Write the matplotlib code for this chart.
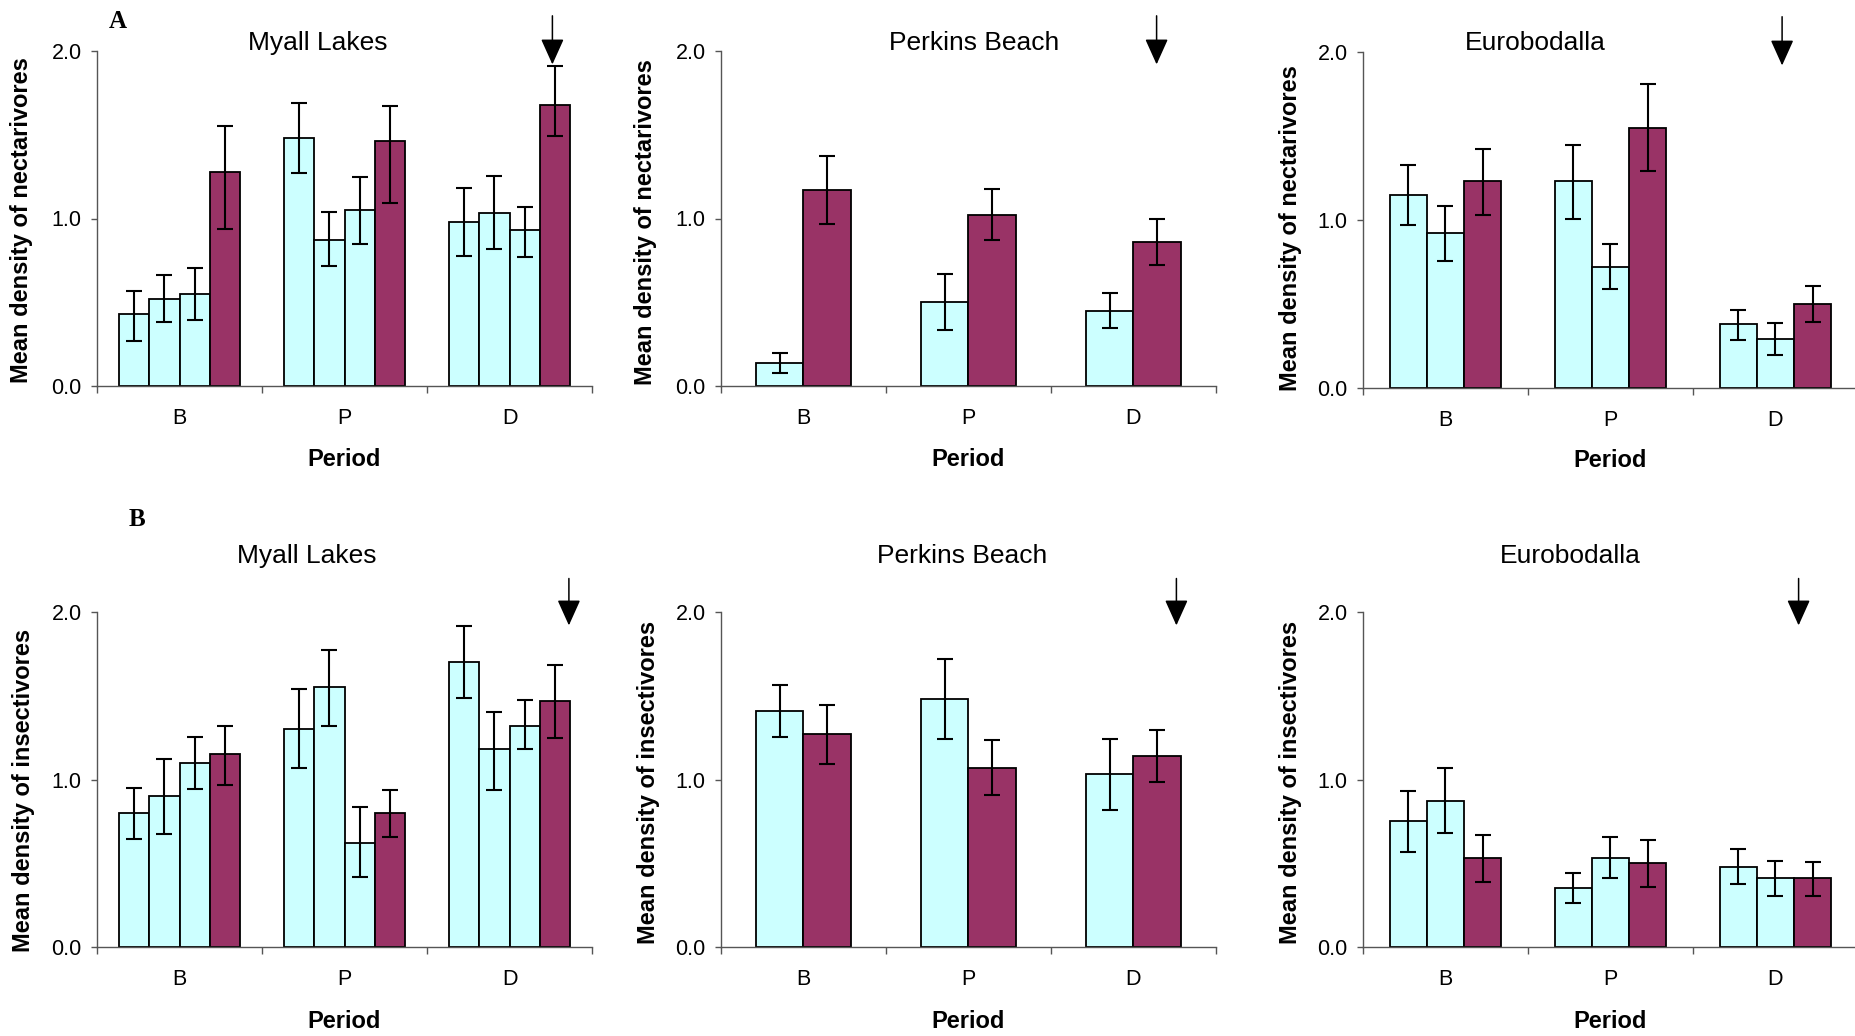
import numpy as np
import matplotlib
matplotlib.use("Agg")
import matplotlib.pyplot as plt

plt.rcParams['font.family'] = ['Liberation Sans', 'DejaVu Sans']

W, H = 1856, 1036

periods = ['B', 'P', 'D']
sites = ['Myall Lakes', 'Perkins Beach', 'Eurobodalla']

# nectarivores, rows = period (B, P, D), columns = bars in the group
nect_myall = [[0.43, 0.52, 0.55, 1.28], [1.48, 0.87, 1.05, 1.46], [0.98, 1.03, 0.93, 1.68]]
nect_myall_hi = [[0.14, 0.14, 0.155, 0.27], [0.21, 0.17, 0.20, 0.21], [0.20, 0.225, 0.14, 0.23]]
nect_myall_lo = [[0.16, 0.14, 0.155, 0.34], [0.21, 0.155, 0.205, 0.37], [0.205, 0.21, 0.16, 0.19]]

nect_perkins = [[0.14, 1.17], [0.50, 1.02], [0.45, 0.86]]
nect_perkins_hi = [[0.06, 0.205], [0.17, 0.155], [0.105, 0.14]]
nect_perkins_lo = [[0.06, 0.205], [0.165, 0.15], [0.105, 0.14]]

nect_euro = [[1.15, 0.92, 1.23], [1.23, 0.72, 1.55], [0.38, 0.29, 0.50]]
nect_euro_hi = [[0.18, 0.165, 0.19], [0.215, 0.14, 0.26], [0.085, 0.095, 0.105]]
nect_euro_lo = [[0.18, 0.165, 0.20], [0.225, 0.13, 0.26], [0.095, 0.095, 0.11]]

# insectivores
ins_myall = [[0.80, 0.90, 1.10, 1.15], [1.30, 1.55, 0.62, 0.80], [1.70, 1.18, 1.32, 1.47]]
ins_myall_hi = [[0.15, 0.22, 0.155, 0.17], [0.24, 0.225, 0.215, 0.14], [0.215, 0.225, 0.155, 0.215]]
ins_myall_lo = [[0.155, 0.225, 0.155, 0.18], [0.23, 0.23, 0.20, 0.145], [0.215, 0.24, 0.14, 0.225]]

ins_perkins = [[1.41, 1.27], [1.48, 1.07], [1.03, 1.14]]
ins_perkins_hi = [[0.155, 0.175], [0.24, 0.165], [0.21, 0.155]]
ins_perkins_lo = [[0.155, 0.18], [0.24, 0.165], [0.215, 0.155]]

ins_euro = [[0.75, 0.87, 0.53], [0.35, 0.53, 0.50], [0.48, 0.41, 0.41]]
ins_euro_hi = [[0.18, 0.20, 0.14], [0.09, 0.125, 0.14], [0.105, 0.105, 0.095]]
ins_euro_lo = [[0.18, 0.19, 0.14], [0.09, 0.12, 0.14], [0.105, 0.105, 0.105]]

# arrow positions (x in category units) marking the last group
arrow_x_nect = [2.26, 2.14, 2.04]
arrow_x_ins = [2.36, 2.26, 2.14]

CYAN = '#CCFFFF'
MAROON = '#993366'
AXCOL = '#555555'


def px(x, y):
    return x / W, 1 - y / H


def draw_panel(ax, vals, hi, lo, colors, width, arrow_x, arrow_top):
    vals = np.array(vals)
    hi = np.array(hi)
    lo = np.array(lo)
    n = vals.shape[1]
    base = np.arange(len(periods))
    for j in range(n):
        xs = base + (j - (n - 1) / 2) * width
        ax.bar(xs, vals[:, j], width, color=colors[j], edgecolor='black',
               linewidth=1.3, zorder=2,
               yerr=[lo[:, j], hi[:, j]], capsize=6,
               error_kw=dict(elinewidth=1.5, capthick=1.5, ecolor='black', zorder=3))
    ax.set_xlim(-0.5, 2.5)
    ax.set_ylim(0, 2)
    ax.set_yticks([0, 1, 2])
    ax.set_yticklabels(['0.0', '1.0', '2.0'])
    ax.set_xticks(base)
    ax.set_xticklabels(periods)
    ax.set_xticks([-0.5, 0.5, 1.5, 2.5], minor=True)
    ax.tick_params(axis='x', which='major', length=0, pad=16, labelsize=15.5)
    ax.tick_params(axis='x', which='minor', length=5, width=1, color=AXCOL)
    ax.tick_params(axis='y', length=4, width=1, color=AXCOL, pad=7, labelsize=15.5)
    for s in ['top', 'right']:
        ax.spines[s].set_visible(False)
    for s in ['left', 'bottom']:
        ax.spines[s].set_color(AXCOL)
        ax.spines[s].set_linewidth(1.0)
    ax.annotate('', xy=(arrow_x, 1.92), xytext=(arrow_x, arrow_top),
                annotation_clip=False,
                arrowprops=dict(arrowstyle='-|>,head_length=1.6,head_width=0.72',
                                color='black', lw=1.1, shrinkA=0, shrinkB=0))


fig = plt.figure(figsize=(W / 100, H / 100), dpi=100)

col_left = [97, 721, 1363]
ax_w = 495

# row A: nectarivores
rowA = [(nect_myall, nect_myall_hi, nect_myall_lo, [CYAN, CYAN, CYAN, MAROON], 0.1825),
        (nect_perkins, nect_perkins_hi, nect_perkins_lo, [CYAN, MAROON], 0.285),
        (nect_euro, nect_euro_hi, nect_euro_lo, [CYAN, CYAN, MAROON], 0.226)]
rowA_bottom = [386, 386, 388]
rowA_top = [51, 51, 52]
titleA = [(318, 43), (974, 43), (1535, 43)]
ylabA = [(22, 220), (646, 222), (1290, 228)]

for i, (v, hi, lo, cols, w) in enumerate(rowA):
    b, t = rowA_bottom[i], rowA_top[i]
    ax = fig.add_axes([col_left[i] / W, 1 - b / H, ax_w / W, (b - t) / H])
    draw_panel(ax, v, hi, lo, cols, w, arrow_x_nect[i], 2.21)
    fig.text(*px(*titleA[i]), sites[i], ha='center', va='center', fontsize=19)
    fig.text(*px(*ylabA[i]), 'Mean density of nectarivores', rotation=90,
             ha='center', va='center', fontsize=17, fontweight='bold')
    fig.text(*px(col_left[i] + ax_w / 2, 459 + (b - 386)), 'Period',
             ha='center', va='center', fontsize=17, fontweight='bold')

# row B: insectivores
rowB = [(ins_myall, ins_myall_hi, ins_myall_lo, [CYAN, CYAN, CYAN, MAROON], 0.1825),
        (ins_perkins, ins_perkins_hi, ins_perkins_lo, [CYAN, MAROON], 0.285),
        (ins_euro, ins_euro_hi, ins_euro_lo, [CYAN, CYAN, MAROON], 0.226)]
rowB_bottom = 947
rowB_top = 612
titleB = [(307, 556), (962, 556), (1570, 556)]
ylabB = [(24, 790), (649, 782), (1291, 782)]

for i, (v, hi, lo, cols, w) in enumerate(rowB):
    ax = fig.add_axes([col_left[i] / W, 1 - rowB_bottom / H, ax_w / W,
                       (rowB_bottom - rowB_top) / H])
    draw_panel(ax, v, hi, lo, cols, w, arrow_x_ins[i], 2.20)
    fig.text(*px(*titleB[i]), sites[i], ha='center', va='center', fontsize=19)
    fig.text(*px(*ylabB[i]), 'Mean density of insectivores', rotation=90,
             ha='center', va='center', fontsize=17, fontweight='bold')
    fig.text(*px(col_left[i] + ax_w / 2, 1021), 'Period',
             ha='center', va='center', fontsize=17, fontweight='bold')

# panel letters
fig.text(*px(118, 22), 'A', ha='center', va='center', fontsize=18,
         fontweight='bold', family='Liberation Serif')
fig.text(*px(137, 519), 'B', ha='center', va='center', fontsize=18,
         fontweight='bold', family='Liberation Serif')

fig.savefig('out.png', dpi=100, facecolor='white')
